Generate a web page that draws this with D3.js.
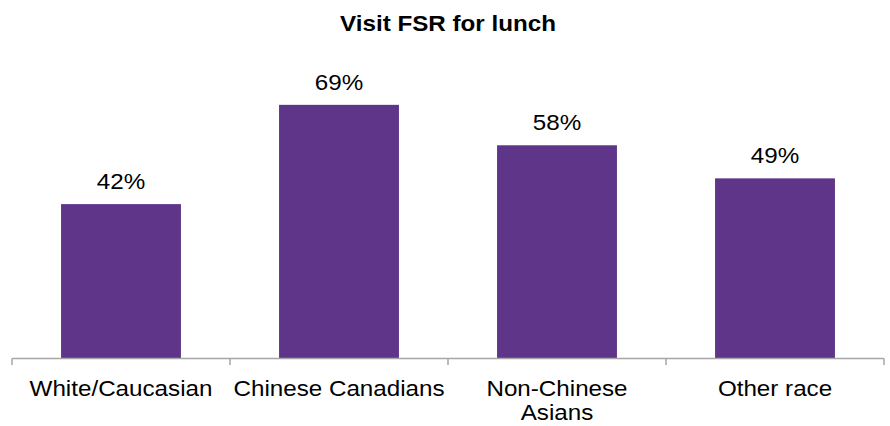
<!DOCTYPE html>
<html>
<head>
<meta charset="utf-8">
<script src="https://cdn.jsdelivr.net/npm/d3@7"></script>
<style>
  html, body { margin: 0; padding: 0; background: #ffffff; }
  svg { display: block; }
  text { font-family: "Liberation Sans", Arial, sans-serif; fill: #000000; }
</style>
</head>
<body>
<svg id="chart" width="890" height="426"></svg>
<script>
// Share of each group that visits a full-service restaurant for lunch (%)
const categories = ["White/Caucasian", "Chinese Canadians", "Non-Chinese Asians", "Other race"];
const values = [42, 69, 58, 49];
const titleText = "Visit FSR for lunch";

const W = 890, H = 426;
const plot = { left: 12, right: 884, top: 64.4, bottom: 358.5 };
const fontSize = 22;
const stretch = 1.1;   // glyphs are drawn slightly wide

const svg = d3.select("#chart");

const x = d3.scaleBand()
  .domain(categories)
  .range([plot.left, plot.right])
  .paddingInner(0.45)
  .paddingOuter(0.225);

const y = d3.scaleLinear()
  .domain([0, 80])
  .range([plot.bottom, plot.top]);

// Helper: a horizontally stretched, centred text label
function label(parent, cx, cy, str, weight) {
  const g = parent.append("g")
    .attr("transform", `translate(${cx},${cy}) scale(${stretch},1)`);
  return g.append("text")
    .attr("text-anchor", "middle")
    .attr("font-size", fontSize)
    .attr("font-weight", weight || "normal")
    .text(str);
}

// Title
label(svg, (plot.left + plot.right) / 2, 31, titleText, "bold");

// Bars
svg.append("g").selectAll("rect")
  .data(categories)
  .join("rect")
  .attr("x", d => x(d))
  .attr("width", x.bandwidth())
  .attr("y", (d, i) => y(values[i]))
  .attr("height", (d, i) => y(0) - y(values[i]))
  .attr("fill", "#5f3589");

// Value labels
const valG = svg.append("g");
categories.forEach((c, i) => {
  label(valG, x(c) + x.bandwidth() / 2, y(values[i]) - 15, values[i] + "%");
});

// Category axis: baseline and boundary ticks
const axisG = svg.append("g");
axisG.append("line")
  .attr("x1", plot.left).attr("x2", plot.right)
  .attr("y1", plot.bottom).attr("y2", plot.bottom)
  .attr("stroke", "#a6a6a6").attr("stroke-width", 1.5);

const step = x.step();
const gap = (step - x.bandwidth()) / 2;
const bounds = categories.map(c => x(c) - gap).concat([x(categories[categories.length - 1]) + x.bandwidth() + gap]);
axisG.selectAll("line.tick")
  .data(bounds)
  .join("line")
  .attr("class", "tick")
  .attr("x1", d => d).attr("x2", d => d)
  .attr("y1", plot.bottom).attr("y2", plot.bottom + 6.5)
  .attr("stroke", "#a6a6a6").attr("stroke-width", 1.5);

// Category labels, wrapped to the band width
const catG = svg.append("g");
const maxW = (step - 4) / stretch;
categories.forEach(c => {
  const cx = x(c) + x.bandwidth() / 2;
  const t = label(catG, cx, plot.bottom + 37.5, "");
  const words = c.split(" ");
  let line = [];
  let lines = [];
  words.forEach(w => {
    const trial = line.concat([w]).join(" ");
    t.text(trial);
    if (t.node().getComputedTextLength() > maxW && line.length) {
      lines.push(line.join(" "));
      line = [w];
    } else {
      line.push(w);
    }
  });
  lines.push(line.join(" "));
  t.text(null);
  lines.forEach((ln, k) => {
    t.append("tspan")
      .attr("x", 0)
      .attr("dy", k === 0 ? 0 : 24)
      .text(ln);
  });
});
</script>
</body>
</html>
